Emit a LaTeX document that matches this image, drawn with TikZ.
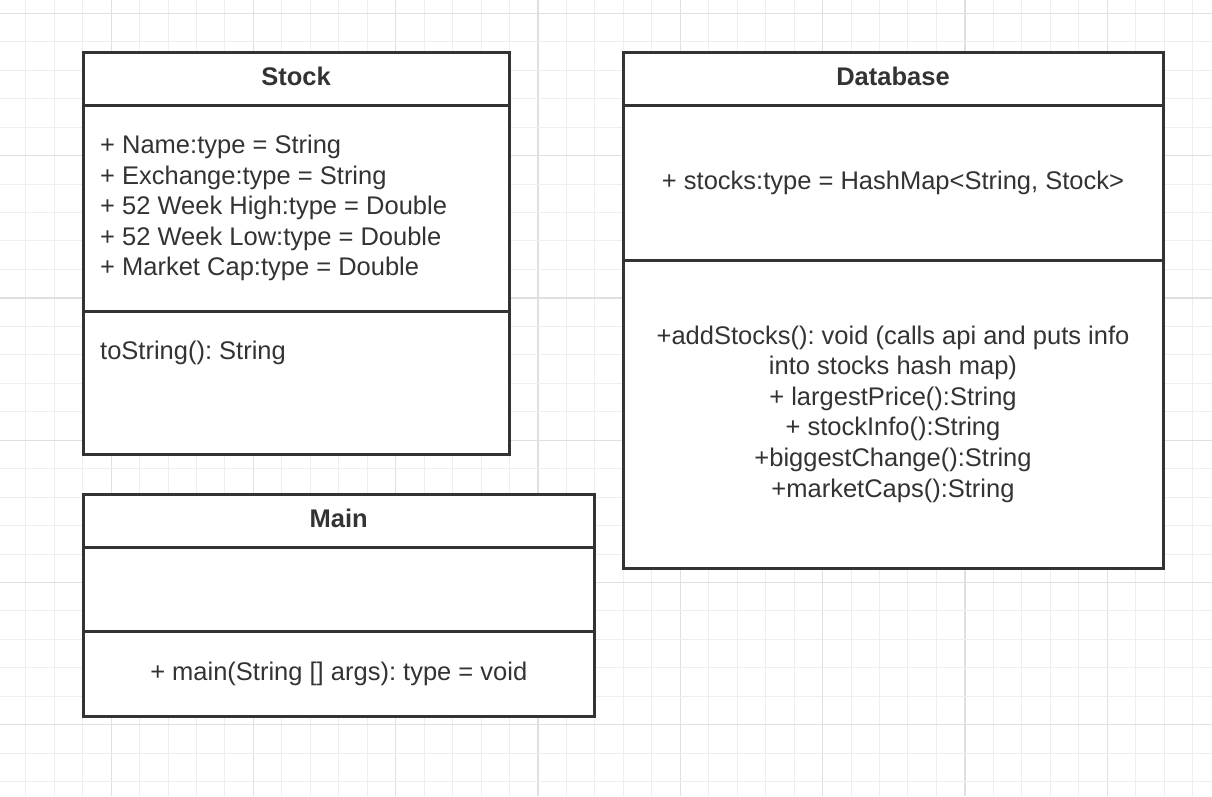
\documentclass[tikz,border=0pt]{standalone}
\usepackage{fontspec}
\setmainfont{Liberation Sans}
\usetikzlibrary{calc}
\definecolor{ink}{HTML}{333333}
\definecolor{gridminor}{HTML}{EEEEEE}
\definecolor{gridmajor}{HTML}{E0E0E0}
\tikzset{
  umlbox/.style={draw=ink, line width=3pt, fill=white, inner sep=0pt, outer sep=0pt, rectangle},
  divider/.style={draw=ink, line width=3pt},
  txt/.style={inner sep=0pt, text=ink, font=\frenchspacing\fontsize{25.5}{30.6}\selectfont},
  titletxt/.style={inner sep=0pt, text=ink, font=\fontsize{25.5}{30.6}\selectfont\bfseries},
}
\begin{document}
\begin{tikzpicture}[x=1pt,y=-1pt]
\useasboundingbox (0,0) rectangle (1212,796);
\fill[white] (0,0) rectangle (1212,796);
% grid
\foreach \k in {-4,...,39} {
  \pgfmathsetmacro{\gx}{111.1+\k*28.46}
  \pgfmathtruncatemacro{\m}{mod(\k+40,5)}
  \ifnum\m=0
    \draw[gridmajor, line width=1.2pt] (\gx,0) -- (\gx,796);
  \else
    \draw[gridminor, line width=1pt] (\gx,0) -- (\gx,796);
  \fi
}
\foreach \k in {0,...,27} {
  \pgfmathsetmacro{\gy}{13.3+\k*28.46}
  \pgfmathtruncatemacro{\m}{mod(\k,5)}
  \ifnum\m=0
    \draw[gridmajor, line width=1.2pt] (0,\gy) -- (1212,\gy);
  \else
    \draw[gridminor, line width=1pt] (0,\gy) -- (1212,\gy);
  \fi
}
% Stock
\node[umlbox, minimum width=426pt, minimum height=402pt] (stock) at (296,253.5) {};
\draw[divider] (stock.west |- 0,105.5) -- (stock.east |- 0,105.5);
\draw[divider] (stock.west |- 0,311.3) -- (stock.east |- 0,311.3);
\node[titletxt] (stockT) at (296,76) {Stock};
\node[txt, anchor=west, align=left] (stockA) at (100,208) {+ Name:type = String\\+ Exchange:type = String\\+ 52 Week High:type = Double\\+ 52 Week Low:type = Double\\+ Market Cap:type = Double};
\node[txt, anchor=west] (stockM) at (100,352.5) {toString(): String};
% Database
\node[umlbox, minimum width=540pt, minimum height=515.5pt] (db) at (893,310.25) {};
\draw[divider] (db.west |- 0,105.5) -- (db.east |- 0,105.5);
\draw[divider] (db.west |- 0,260) -- (db.east |- 0,260);
\node[titletxt] (dbT) at (893,76) {Database};
\node[txt] (dbA) at (893,182.5) {+ stocks:type = HashMap<String, Stock>};
\node[txt, align=center] (dbM) at (893,414) {+addStocks(): void (calls api and puts info\\into stocks hash map)\\+ largestPrice():String\\+ stockInfo():String\\+biggestChange():String\\+marketCaps():String};
% Main
\node[umlbox, minimum width=511.5pt, minimum height=222pt] (main) at (338.75,605) {};
\draw[divider] (main.west |- 0,547.3) -- (main.east |- 0,547.3);
\draw[divider] (main.west |- 0,631.3) -- (main.east |- 0,631.3);
\node[titletxt] (mainT) at (338.75,518) {Main};
\node[txt] (mainM) at (338.75,673.5) {+ main(String [] args): type = void};
\end{tikzpicture}
\end{document}
